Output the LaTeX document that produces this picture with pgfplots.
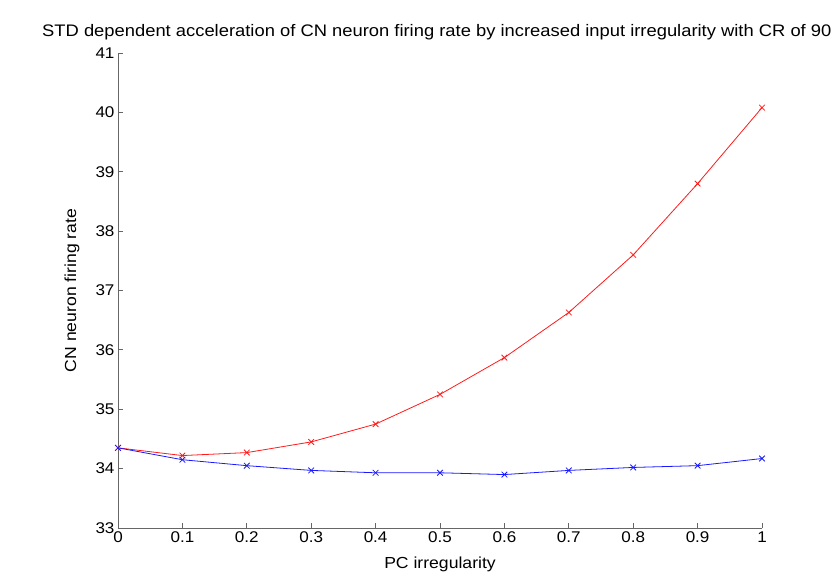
\documentclass[border=0pt]{standalone}
\usepackage{pgfplots}
\pgfplotsset{compat=1.18}
\usepackage{fontspec}
\setmainfont[FakeStretch=1.1]{Liberation Sans}
\begin{document}
\begin{tikzpicture}
\useasboundingbox (-118bp,-59bp) rectangle (713bp,528bp);
\clip (-118bp,-59bp) rectangle (713bp,528bp);
\begin{axis}[
  at={(0,0)}, anchor=south west,
  scale only axis, width=644bp, height=475bp,
  xmin=0, xmax=1, ymin=33, ymax=41,
  axis lines*=left,
  axis line style={-, draw=black!60, line width=0.9pt},
  tick style={draw=black!60, line width=0.8pt},
  tick align=inside, major tick length=5bp,
  xtick={0,0.1,...,1.0}, ytick={33,34,...,41},
  xticklabels={0,0.1,0.2,0.3,0.4,0.5,0.6,0.7,0.8,0.9,1},
  /pgf/number format/assume math mode=true,
  ticklabel style={font=\fontsize{15.5bp}{17bp}\selectfont},
  xlabel={PC irregularity}, ylabel={CN neuron firing rate},
  label style={font=\fontsize{16bp}{18bp}\selectfont},
  xlabel style={at={(axis description cs:0.5,0)}, anchor=center, yshift=-36bp},
  ylabel style={at={(axis description cs:0,0.5)}, anchor=center, yshift=46bp},
  clip=false,
]
\addplot[red!90, line width=0.8pt, mark=x, mark size=4bp] coordinates {
(0,34.35) (0.1,34.22) (0.2,34.27) (0.3,34.45) (0.4,34.75) (0.5,35.25)
(0.6,35.87) (0.7,36.63) (0.8,37.60) (0.9,38.80) (1.0,40.08)};
\addplot[blue!90, line width=0.8pt, mark=x, mark size=4bp] coordinates {
(0,34.35) (0.1,34.15) (0.2,34.05) (0.3,33.97) (0.4,33.93) (0.5,33.93)
(0.6,33.90) (0.7,33.97) (0.8,34.02) (0.9,34.05) (1.0,34.17)};
\end{axis}
\node[anchor=base west, inner sep=0pt, font=\fontsize{16.7bp}{18bp}\selectfont] at (-76bp,491bp)
  {STD dependent acceleration of CN neuron firing rate by increased input irregularity with CR of 90 Hz};
\end{tikzpicture}
\end{document}
